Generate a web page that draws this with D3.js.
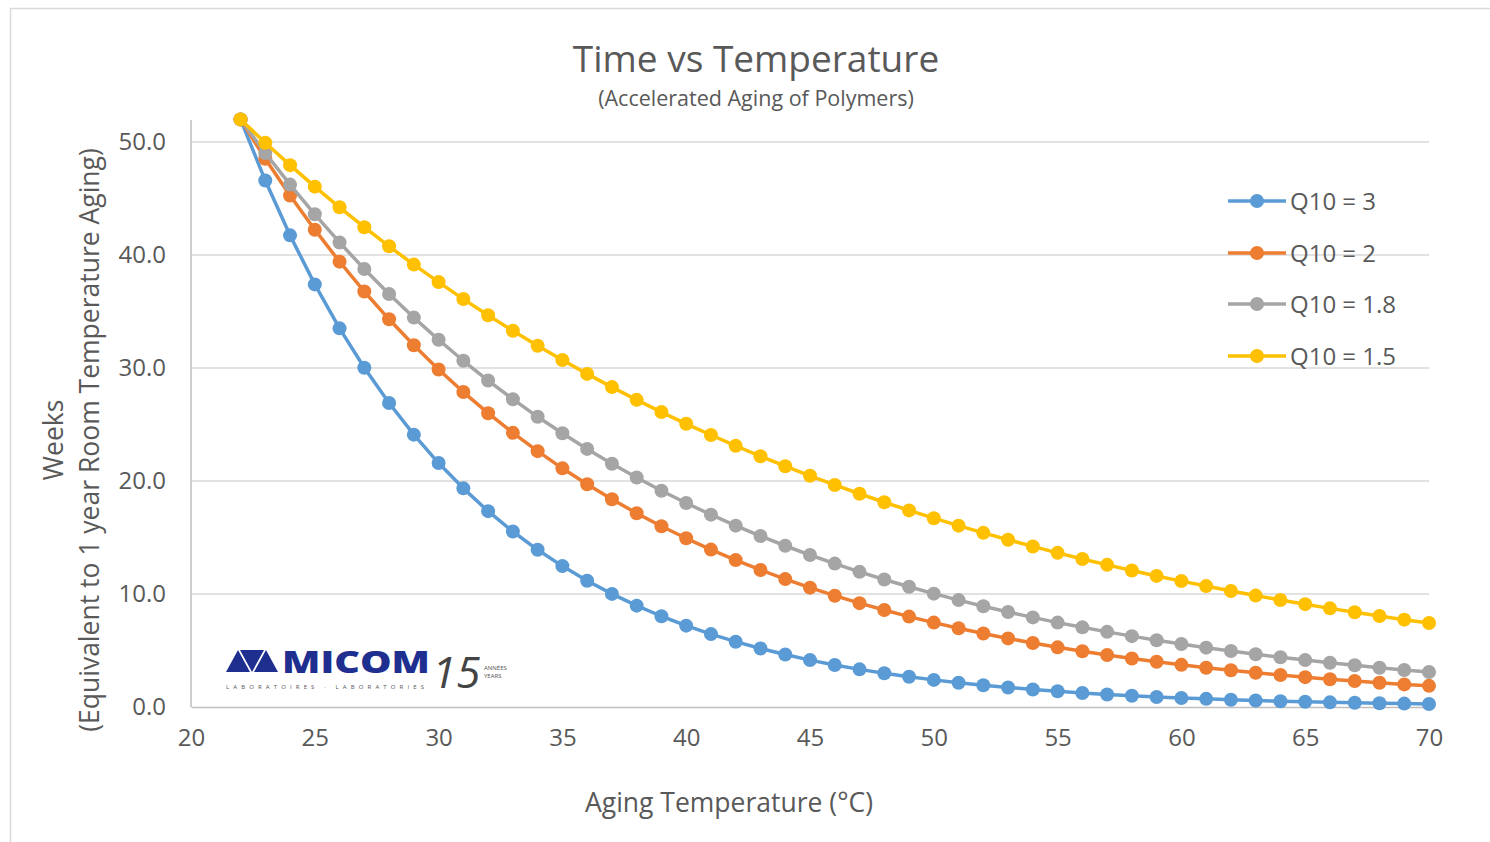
<!DOCTYPE html>
<html><head><meta charset="utf-8">
<script src="https://cdn.jsdelivr.net/npm/d3@7"></script>
<style>body{margin:0;background:#fff;}svg{display:block;}text{font-family:"Open Sans",Lato,sans-serif;}</style>
</head><body><svg id="c" width="1490" height="842"></svg>
<script>
const temperatures = d3.range(22, 71);
const q3 = [52.00,46.59,41.74,37.40,33.51,30.02,26.90,24.10,21.59,19.35,17.33,15.53,13.91,12.47,11.17,10.01,8.97,8.03,7.20,6.45,5.78,5.18,4.64,4.15,3.72,3.33,2.99,2.68,2.40,2.15,1.93,1.73,1.55,1.39,1.24,1.11,1.00,0.89,0.80,0.72,0.64,0.57,0.51,0.46,0.41,0.37,0.33,0.30,0.27];
const q2 = [52.00,48.52,45.27,42.24,39.41,36.77,34.31,32.01,29.87,27.87,26.00,24.26,22.64,21.12,19.71,18.38,17.15,16.00,14.93,13.93,13.00,12.13,11.32,10.56,9.85,9.19,8.58,8.00,7.47,6.97,6.50,6.07,5.66,5.28,4.93,4.60,4.29,4.00,3.73,3.48,3.25,3.03,2.83,2.64,2.46,2.30,2.14,2.00,1.87];
const q18 = [52.00,49.03,46.23,43.60,41.11,38.76,36.55,34.46,32.50,30.64,28.89,27.24,25.68,24.22,22.84,21.53,20.31,19.14,18.05,17.02,16.05,15.13,14.27,13.45,12.69,11.96,11.28,10.64,10.03,9.46,8.92,8.41,7.93,7.47,7.05,6.65,6.27,5.91,5.57,5.25,4.95,4.67,4.40,4.15,3.91,3.69,3.48,3.28,3.10];
const q15 = [52.00,49.93,47.95,46.05,44.22,42.46,40.77,39.15,37.60,36.10,34.67,33.29,31.97,30.70,29.48,28.31,27.18,26.10,25.06,24.07,23.11,22.19,21.31,20.46,19.65,18.87,18.12,17.40,16.71,16.05,15.41,14.80,14.21,13.64,13.10,12.58,12.08,11.60,11.14,10.70,10.27,9.86,9.47,9.10,8.73,8.39,8.05,7.73,7.43];
const seriesNames = ["Q10 = 3","Q10 = 2","Q10 = 1.8","Q10 = 1.5"];
const seriesValues = [q3,q2,q18,q15];
const seriesColors = ["#5b9bd5","#ed7d31","#a5a5a5","#ffc000"];
const xTicks = [20,25,30,35,40,45,50,55,60,65,70];
const yTicks = [0,10,20,30,40,50];

const svg = d3.select("#c");
svg.append("rect").attr("x",10.5).attr("y",8.5).attr("width",1490).attr("height",840)
  .attr("fill","#fff").attr("stroke","#d9d9d9").attr("stroke-width",1.5);

const x = d3.scaleLinear().domain([20,70]).range([191,1429]);
const y = d3.scaleLinear().domain([0,50]).range([707,142]);

svg.append("g").selectAll("line").data(yTicks.filter(d=>d>0)).join("line")
  .attr("x1",191).attr("x2",1429).attr("y1",d=>y(d)).attr("y2",d=>y(d))
  .attr("stroke","#d9d9d9").attr("stroke-width",1.5);

const yAxis = svg.append("g").attr("transform","translate(191,0)")
  .call(d3.axisLeft(y).tickValues(yTicks).tickSize(0).tickPadding(25).tickFormat(d3.format(".1f")));
yAxis.select(".domain").attr("d","M0,120V707").attr("stroke","#bfbfbf").attr("stroke-width",1.5);
yAxis.selectAll("text").attr("font-size",24).attr("fill","#595959");

const xAxis = svg.append("g").attr("transform","translate(0,707)")
  .call(d3.axisBottom(x).tickValues(xTicks).tickSize(0).tickPadding(22).tickFormat(d3.format("d")));
xAxis.select(".domain").attr("stroke","#bfbfbf").attr("stroke-width",1.5);
xAxis.selectAll("text").attr("font-size",24).attr("fill","#595959");

const line = d3.line().x((d,i)=>x(temperatures[i])).y(d=>y(d));
seriesValues.forEach((vals,si)=>{
  const g = svg.append("g");
  g.append("path").datum(vals).attr("d",line).attr("fill","none")
    .attr("stroke",seriesColors[si]).attr("stroke-width",3.5).attr("stroke-linejoin","round");
  g.selectAll("circle").data(vals).join("circle")
    .attr("cx",(d,i)=>x(temperatures[i])).attr("cy",d=>y(d)).attr("r",7)
    .attr("fill",seriesColors[si]);
});

svg.append("text").attr("x",756).attr("y",72).attr("text-anchor","middle")
  .attr("font-size",37).attr("fill","#595959").text("Time vs Temperature");
svg.append("text").attr("x",756).attr("y",106).attr("text-anchor","middle")
  .attr("font-size",21.5).attr("fill","#595959").text("(Accelerated Aging of Polymers)");

svg.append("text").attr("x",729).attr("y",812).attr("text-anchor","middle")
  .attr("font-size",26.5).attr("fill","#595959").text("Aging Temperature (°C)");
const yt = svg.append("g").attr("transform","translate(0,440) rotate(-90)");
yt.append("text").attr("x",0).attr("y",63).attr("text-anchor","middle")
  .attr("font-size",26.5).attr("fill","#595959").text("Weeks");
yt.append("text").attr("x",0).attr("y",99).attr("text-anchor","middle")
  .attr("font-size",26.5).attr("fill","#595959").text("(Equivalent to 1 year Room Temperature Aging)");

const leg = svg.append("g");
const legY = [201,253,304,356];
seriesNames.forEach((n,i)=>{
  leg.append("line").attr("x1",1228).attr("x2",1286).attr("y1",legY[i]).attr("y2",legY[i])
    .attr("stroke",seriesColors[i]).attr("stroke-width",3.5);
  leg.append("circle").attr("cx",1257).attr("cy",legY[i]).attr("r",7).attr("fill",seriesColors[i]);
  leg.append("text").attr("x",1290).attr("y",legY[i]+9).attr("font-size",24).attr("fill","#595959").text(n);
});

const logo = svg.append("g").attr("transform","translate(226,648)");
logo.append("path").attr("d","M0,24 L12,2 L24,24 Z M14,2 L38,2 L26,24 Z M28,24 L40,2 L52,24 Z").attr("fill","#1f2f8f");
logo.append("text").attr("x",56).attr("y",25).attr("font-size",30).attr("font-weight",900)
  .attr("fill","#1f2f8f").attr("font-family","'DejaVu Sans',sans-serif")
  .attr("textLength",148).attr("lengthAdjust","spacingAndGlyphs").text("MICOM");
logo.append("text").attr("x",0).attr("y",41).attr("font-size",6).attr("fill","#555")
  .attr("textLength",198).text("LABORATOIRES · LABORATORIES");
logo.append("text").attr("x",206).attr("y",40).attr("font-size",44).attr("font-style","italic")
  .attr("fill","#444").attr("font-family","'DejaVu Serif',serif").text("15");
logo.append("text").attr("x",258).attr("y",22).attr("font-size",6).attr("fill","#555").text("ANNÉES");
logo.append("text").attr("x",258).attr("y",30).attr("font-size",6).attr("fill","#555").text("YEARS");
</script></body></html>
